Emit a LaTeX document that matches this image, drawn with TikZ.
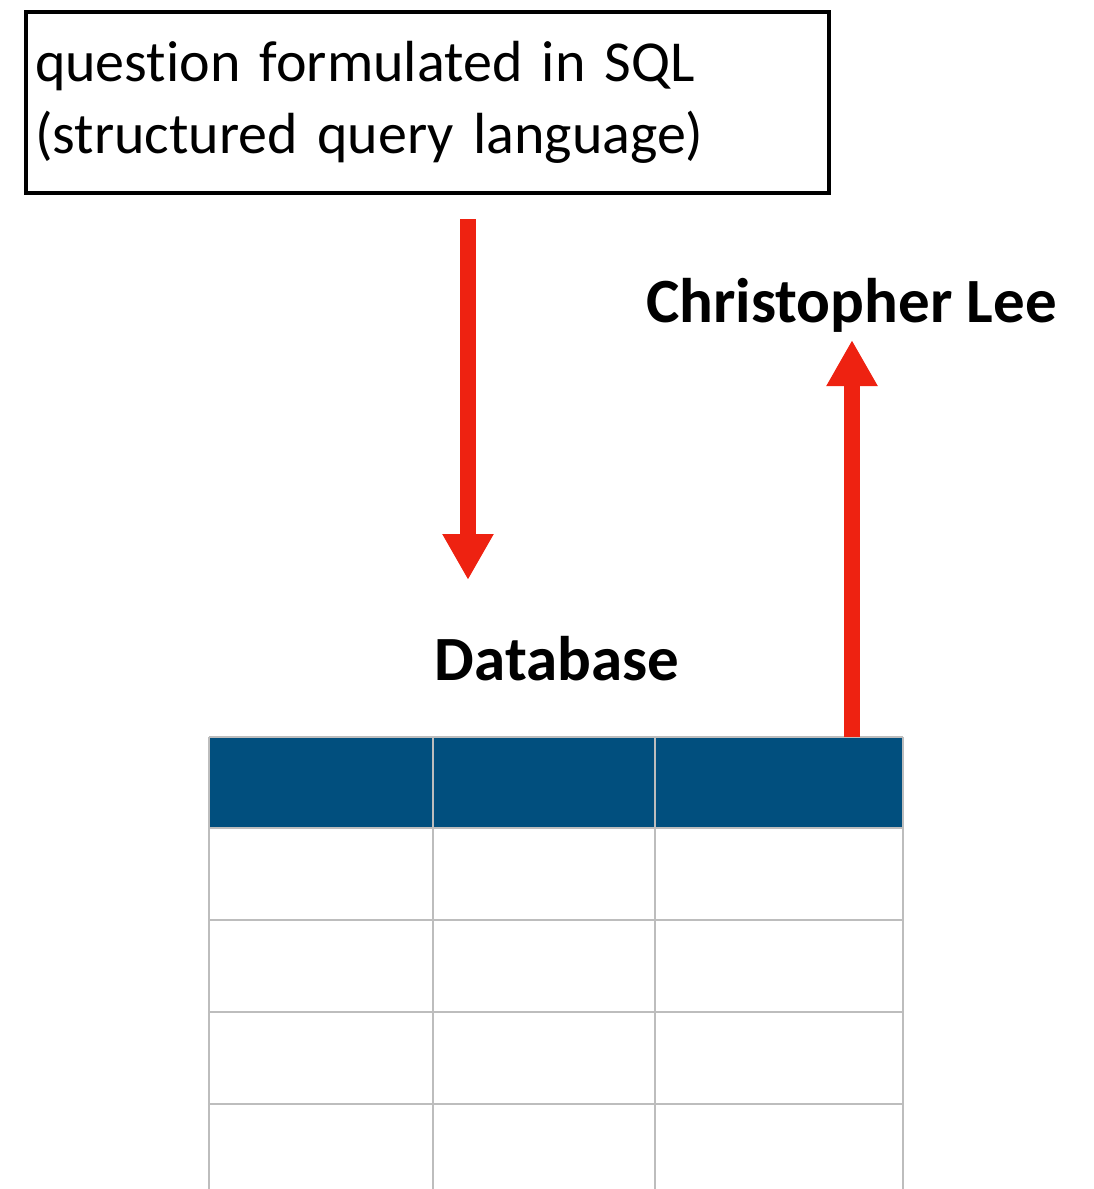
\documentclass[tikz,border=0pt]{standalone}
\usepackage{fontspec}
\setmainfont{Carlito}[Ligatures=NoCommon]
\usetikzlibrary{arrows.meta, positioning}
\definecolor{flowred}{HTML}{EE2211}
\definecolor{headblue}{HTML}{014F7E}
\definecolor{gridgray}{HTML}{BDBDBD}
\tikzset{
x=0.5pt, y=-0.5pt, % one unit is one pixel of the sketch
flow/.style={flowred, line width=8pt, -{Triangle[width=24pt, length=23pt]}}, % the fat red arrows
query/.style={draw, line width=2.2pt, align=left, inner xsep=4.5pt, minimum width=401.5pt, minimum height=90.5pt, text width=392.5pt, font=\fontsize{29}{36}\selectfont}, % the question box
title/.style={font=\fontsize{31.5}{36}\selectfont\bfseries, inner sep=0pt}, % bold captions
cell/.style={gridgray, line width=1pt}, % table lines
}

\begin{document}
\begin{tikzpicture}
        \useasboundingbox (0,0) rectangle (1093,1189);

        \node[query] (q) at (427.5,102.5) {question formulated in SQL\\(structured query language)};

        \node[title, anchor=base] (db) at (557,680) {Database};
        \node[title, anchor=base] (lee) at (851.5,322) {Christopher Lee};

        % the table, cut off at the bottom
        \fill[headblue] (209,737) rectangle (903,828);
        \foreach \y in {737,828,920,1012,1104}
            \draw[cell] (209,\y) -- (903,\y);
        \foreach \x in {209,433,655,903}
            \draw[cell] (\x,737) -- (\x,1189);

        \coordinate (ask) at (468,219);
        \coordinate (in) at (468,580);
        \coordinate (out) at (852,737);
        \coordinate (ans) at (852,340);

        \draw[flow] (ask) -- (in);
        \draw[flow] (out) -- (ans);
    \end{tikzpicture}
\end{document}
